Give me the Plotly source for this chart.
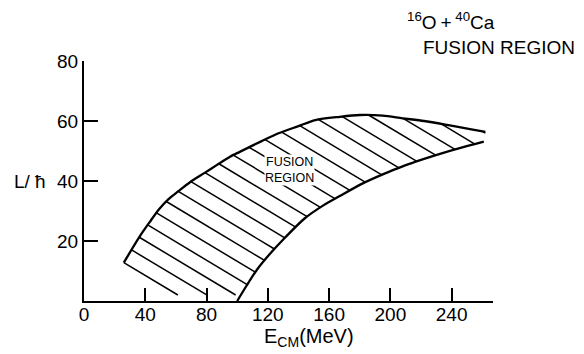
import numpy as np
import plotly.graph_objects as go

# ---- data ----
upper_E = [26, 36.6, 43, 49, 55, 61.6, 69.2, 79, 86.6, 95.3, 102, 116, 127, 140, 151, 167, 180, 195, 208, 222, 237, 252, 262]
upper_L = [12.8, 21.7, 26.4, 30.6, 33.9, 36.6, 39.6, 42.8, 45.3, 48.1, 49.8, 53.3, 55.9, 58.3, 60.3, 61.4, 62.0, 61.8, 60.9, 60.0, 58.7, 57.3, 56.4]
lower_E = [100, 106, 113, 121, 131, 144, 156, 167, 182, 195, 208, 221, 234, 247, 261]
lower_L = [0, 5, 10.5, 15.5, 21, 27.5, 31.8, 35, 39.2, 42.2, 44.9, 47.2, 49.3, 51.2, 53.1]
x_ticks = [0, 40, 80, 120, 160, 200, 240]
y_ticks = [20, 40, 60, 80]

FONT = "Liberation Sans, Arial, Helvetica, sans-serif"

fig = go.Figure()

# hatch lines (decoration) clipped between the two boundaries
slope = 0.306
step = 5.77
b0 = upper_L[0] + slope * upper_E[0]
Eg = np.linspace(upper_E[0], upper_E[-1], 4000)
up = np.interp(Eg, upper_E, upper_L)
lo = np.maximum(np.interp(Eg, lower_E, lower_L, left=-50), 2.0)
hx, hy = [], []
for k in range(0, 22):
    b = b0 + k * step
    Lh = b - slope * Eg
    ok = (Lh <= up + 1e-9) & (Lh >= lo)
    if ok.sum() < 2:
        continue
    idx = np.where(ok)[0]
    i0, i1 = idx[0], idx[-1]
    hx += [Eg[i0], Eg[i1], None]
    hy += [Lh[i0], Lh[i1], None]
fig.add_trace(go.Scatter(x=hx, y=hy, mode="lines", line=dict(color="black", width=1.5),
                         hoverinfo="skip", showlegend=False))

fig.add_trace(go.Scatter(x=upper_E, y=upper_L, mode="lines",
                         line=dict(color="black", width=2.3, shape="spline", smoothing=0.8),
                         showlegend=False))
fig.add_trace(go.Scatter(x=lower_E, y=lower_L, mode="lines",
                         line=dict(color="black", width=2.3, shape="spline", smoothing=0.8),
                         showlegend=False))

axis_common = dict(showline=True, linecolor="black", linewidth=2, ticks="inside", tickcolor="black",
                   tickwidth=1.5, showgrid=False, zeroline=False,
                   tickfont=dict(family=FONT, size=19, color="black"))
fig.update_xaxes(range=[0, 267], tickvals=x_ticks, ticktext=[str(v) for v in x_ticks], ticklen=13,
                 ticklabelstandoff=-5, **axis_common)
fig.update_yaxes(range=[0, 80], tickvals=y_ticks, ticktext=[str(v) for v in y_ticks], ticklen=14,
                 ticklabelstandoff=0, **axis_common)

# page has an 8px body margin: figure coords = page coords - 8
OFF = 8
W, H = 584 - OFF, 354 - OFF
L, R, T, B = 84 - OFF, 584 - 493, 61 - OFF, 354 - 301
pw, ph = W - L - R, H - T - B

def px(x):
    return (x - OFF - L) / pw

def py(y):
    return (H - B - (y - OFF)) / ph

ann = [
    dict(text="FUSION<br>REGION", x=134.4, y=43.8, xref="x", yref="y", font=dict(size=12.5),
         bgcolor="white", borderpad=0),
    dict(text="<sup>16</sup>O\u2009+\u2009<sup>40</sup>Ca", x=px(405), y=py(21), xref="paper", yref="paper",
         xanchor="left", yanchor="middle", font=dict(size=19)),
    dict(text="FUSION REGION", x=px(421), y=py(47), xref="paper", yref="paper",
         xanchor="left", yanchor="middle", font=dict(size=19)),
    dict(text="L/ ħ", x=px(12), y=py(181), xref="paper", yref="paper",
         xanchor="left", yanchor="middle", font=dict(size=19)),
    dict(text="E<sub>CM</sub>(MeV)", x=px(262), y=py(337), xref="paper", yref="paper",
         xanchor="left", yanchor="middle", font=dict(size=20)),
]
for a in ann:
    a["showarrow"] = False
    a["font"].update(family=FONT, color="black")
    fig.add_annotation(**a)

fig.update_layout(width=W, height=H, margin=dict(l=L, r=R, t=T, b=B),
                  paper_bgcolor="white", plot_bgcolor="white", showlegend=False)

fig.write_html("out.html")
